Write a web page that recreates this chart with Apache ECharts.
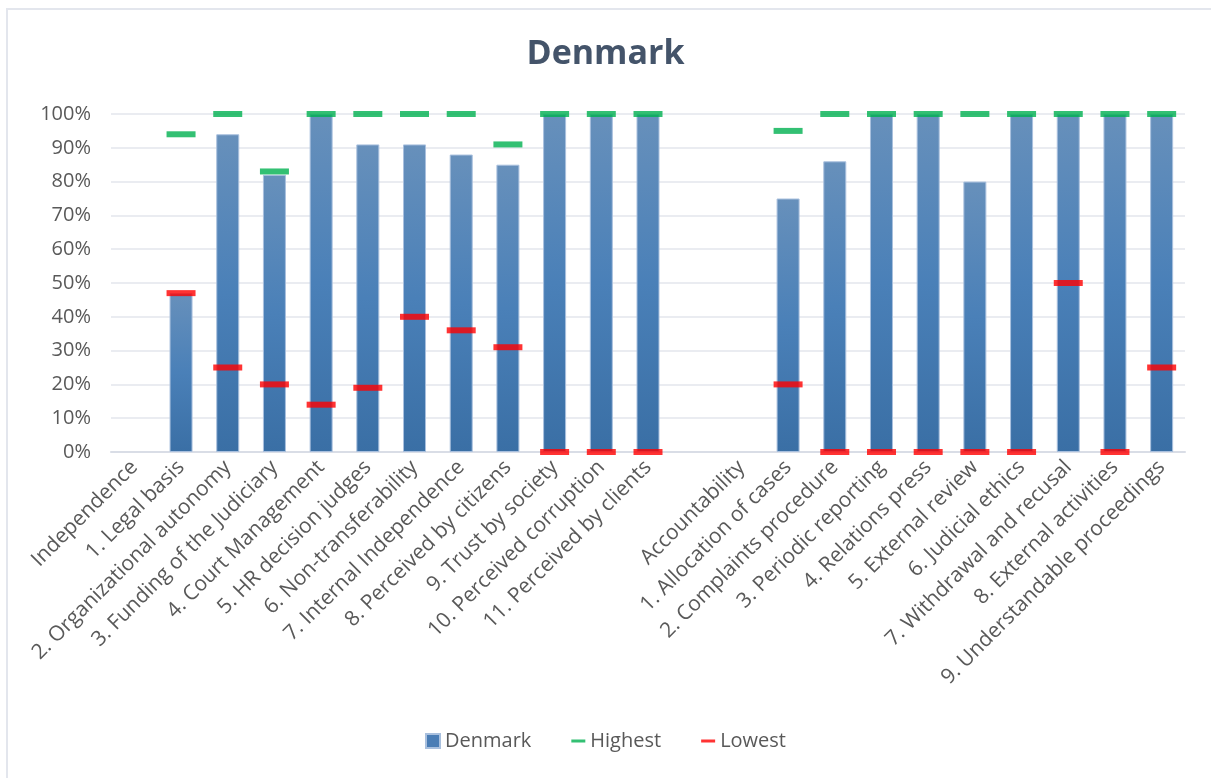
<!DOCTYPE html>
<html>
<head>
<meta charset="utf-8">
<title>Denmark</title>
<script src="https://cdn.jsdelivr.net/npm/echarts@6/dist/echarts.min.js"></script>
<style>
  html, body { margin: 0; padding: 0; background: #fff; }
  #chart { width: 1211px; height: 778px; }
</style>
</head>
<body>
<div id="chart"></div>
<script>
// categories (empty one is the gap between the two groups)
var categories = [
  'Independence', '1. Legal basis', '2. Organizational autonomy', '3. Funding of the Judiciary',
  '4. Court Management', '5. HR decision judges', '6. Non-transferability',
  '7. Internal Independence', '8. Perceived by citizens', '9. Trust by society',
  '10. Perceived corruption', '11. Perceived by clients', '',
  'Accountability', '1. Allocation of cases', '2. Complaints procedure', '3. Periodic reporting',
  '4. Relations press', '5. External review', '6. Judicial ethics',
  '7. Withdrawal and recusal', '8. External activities', '9. Understandable proceedings'
];
var denmark = [null, 47, 94, 82, 100, 91, 91, 88, 85, 100, 100, 100, null,
  null, 75, 86, 100, 100, 80, 100, 100, 100, 100];
var highest = [null, 94, 100, 83, 100, 100, 100, 100, 91, 100, 100, 100, null,
  null, 95, 100, 100, 100, 100, 100, 100, 100, 100];
var lowest = [null, 47, 25, 20, 14, 19, 40, 36, 31, 0, 0, 0, null,
  null, 20, 0, 0, 0, 0, 0, 50, 0, 25];

var font = '"Open Sans", Lato, sans-serif';
var textColor = '#595959';

var myChart = echarts.init(document.getElementById('chart'));
myChart.setOption({
  animation: false,
  backgroundColor: '#fff',
  textStyle: { fontFamily: font },
  graphic: [
    { type: 'line', shape: { x1: 6, y1: 9, x2: 1211, y2: 9 }, style: { stroke: '#e3e6ed', lineWidth: 2 } },
    { type: 'line', shape: { x1: 7, y1: 8, x2: 7, y2: 778 }, style: { stroke: '#e3e6ed', lineWidth: 2 } }
  ],
  title: {
    text: 'Denmark',
    left: 'center',
    top: 32,
    textStyle: { fontFamily: font, fontSize: 34, fontWeight: 'bold', color: '#44546A' }
  },
  legend: {
    bottom: 22,
    left: 'center',
    itemGap: 40,
    itemWidth: 14,
    itemHeight: 14,
    textStyle: { fontFamily: font, fontSize: 20, color: textColor },
    data: [
      { name: 'Denmark', icon: 'rect', itemStyle: { color: '#4a7db5' } },
      { name: 'Highest', icon: 'path://M0,0 L14,0 L14,3 L0,3 Z', itemStyle: { color: '#00b050' } },
      { name: 'Lowest', icon: 'path://M0,0 L14,0 L14,3 L0,3 Z', itemStyle: { color: '#ff0000' } }
    ]
  },
  grid: { left: 111, right: 26, top: 114, height: 338 },
  xAxis: {
    type: 'category',
    data: categories,
    axisLine: { lineStyle: { color: '#d9dde6', width: 2 } },
    axisTick: { show: false },
    axisLabel: {
      interval: 0,
      rotate: 45,
      margin: 12,
      fontSize: 21,
      color: textColor,
      fontFamily: font
    }
  },
  yAxis: {
    type: 'value',
    min: 0,
    max: 100,
    interval: 10,
    axisLine: { show: false },
    axisTick: { show: false },
    splitLine: { lineStyle: { color: '#e3e6ed', width: 1.5 } },
    axisLabel: {
      formatter: '{value}%',
      fontSize: 20,
      margin: 20,
      color: textColor,
      fontFamily: font
    }
  },
  series: [
    {
      name: 'Denmark',
      type: 'bar',
      data: denmark,
      barWidth: 23,
      itemStyle: {
        borderColor: '#a9c0de',
        borderWidth: 1,
        color: new echarts.graphic.LinearGradient(0, 0, 0, 1, [
          { offset: 0, color: '#6790bb' },
          { offset: 0.5, color: '#4a80b8' },
          { offset: 1, color: '#3a6fa5' }
        ])
      },
      z: 2
    },
    {
      name: 'Highest',
      type: 'scatter',
      data: highest,
      symbol: 'rect',
      symbolSize: [29, 6],
      itemStyle: { color: '#00b050' },
      z: 3
    },
    {
      name: 'Lowest',
      type: 'scatter',
      data: lowest,
      symbol: 'rect',
      symbolSize: [29, 6],
      itemStyle: { color: '#ff0000' },
      z: 3
    }
  ]
});
</script>
</body>
</html>
